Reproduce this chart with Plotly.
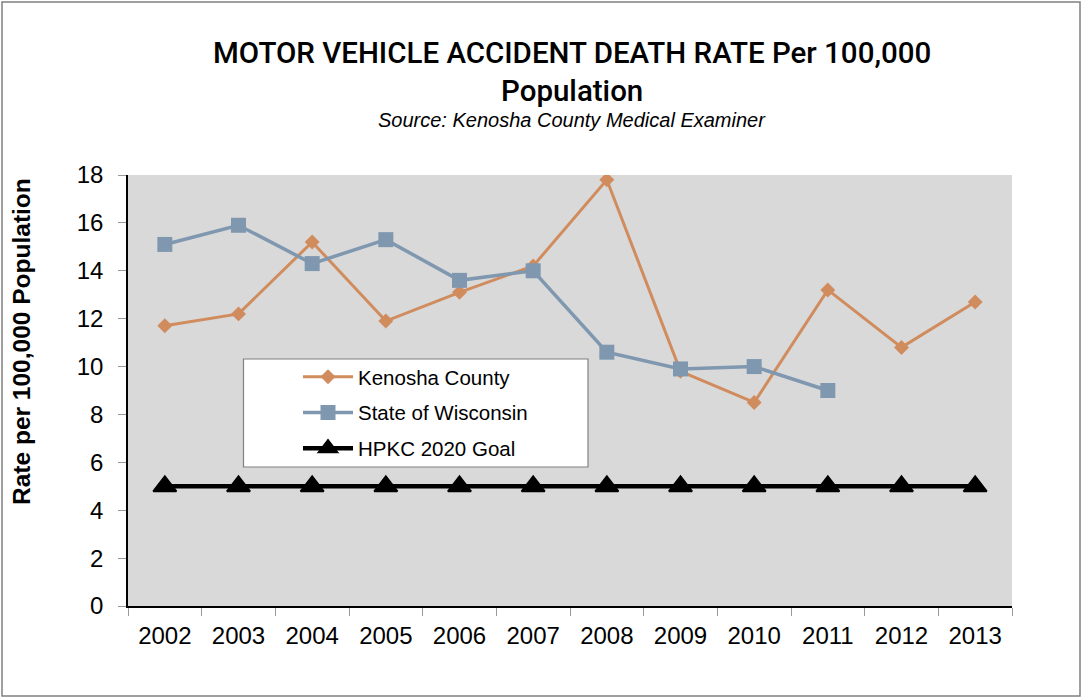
import plotly.graph_objects as go

years = ["2002", "2003", "2004", "2005", "2006", "2007", "2008", "2009", "2010", "2011", "2012", "2013"]
kenosha = [11.7, 12.2, 15.2, 11.9, 13.1, 14.2, 17.8, 9.8, 8.5, 13.2, 10.8, 12.7]
wisconsin = [15.1, 15.9, 14.3, 15.3, 13.6, 14.0, 10.6, 9.9, 10.0, 9.0, None, None]
goal = [5, 5, 5, 5, 5, 5, 5, 5, 5, 5, 5, 5]

W, H = 1083, 698
L, R, T, B = 128, 1012, 175, 606

def px(x):
    return (x - L) / (R - L)

def py(y):
    return (B - y) / (B - T)

fig = go.Figure()
fig.add_trace(go.Scatter(
    x=years, y=kenosha, name="Kenosha County", mode="lines+markers",
    line=dict(color="#D18C5E", width=3),
    marker=dict(symbol="diamond", size=11.5, color="#D18C5E"),
    legendgroup="a"))
fig.add_trace(go.Scatter(
    x=years, y=wisconsin, name="State of Wisconsin", mode="lines+markers",
    line=dict(color="#7F98B0", width=3.5),
    marker=dict(symbol="square", size=15, color="#7F98B0"),
    legendgroup="b"))
fig.add_trace(go.Scatter(
    x=years, y=goal, name="HPKC 2020 Goal", mode="lines+markers",
    line=dict(color="#000000", width=4.5),
    marker=dict(symbol="triangle-up", size=20, color="#000000",
                line=dict(color="#000000", width=2)),
    legendgroup="c"))

font_main = "Liberation Sans, Arial, sans-serif"

fig.update_layout(
    width=W, height=H,
    margin=dict(l=L, r=W - R, t=T, b=H - B, pad=0),
    paper_bgcolor="white",
    plot_bgcolor="#D9D9D9",
    showlegend=True,
    legend=dict(
        x=px(298), y=py(357), xanchor="left", yanchor="top",
        bgcolor="rgba(0,0,0,0)", borderwidth=0,
        font=dict(family=font_main, size=20.5, color="#000000"),
        traceorder="grouped", tracegroupgap=6,
        itemwidth=50,
    ),
    xaxis=dict(
        type="category", range=[-0.5, 11.5],
        showline=True, linecolor="#000000", linewidth=1.5,
        ticks="outside", tickson="boundaries", ticklen=8, tickcolor="#999999",
        ticklabelstandoff=7,
        tickfont=dict(family=font_main, size=24, color="#000000"),
        showgrid=False, zeroline=False,
    ),
    yaxis=dict(
        range=[0, 18], dtick=2,
        showline=True, linecolor="#000000", linewidth=1.5,
        ticks="outside", ticklen=8, tickcolor="#999999",
        ticklabelstandoff=10,
        tickfont=dict(family=font_main, size=24, color="#000000"),
        showgrid=False, zeroline=False,
    ),
    shapes=[
        dict(type="rect", xref="paper", yref="paper",
             x0=px(243.5), x1=px(588), y0=py(467), y1=py(359),
             fillcolor="white", line=dict(color="#808080", width=1.2), layer="above"),
        dict(type="rect", xref="paper", yref="paper",
             x0=px(2), x1=px(1080), y0=py(696), y1=py(2),
             fillcolor="rgba(0,0,0,0)", line=dict(color="#808080", width=1.5), layer="below"),
    ],
    annotations=[
        dict(text="MOTOR VEHICLE ACCIDENT DEATH RATE Per 100,000<br>Population",
             xref="paper", yref="paper", x=px(572), y=py(72), xanchor="center", yanchor="middle",
             showarrow=False, align="center",
             font=dict(family="Roboto, Liberation Sans, sans-serif", size=29.5, weight=500, color="#000000")),
        dict(text="<i>Source: Kenosha County Medical Examiner</i>",
             xref="paper", yref="paper", x=px(572), y=py(120), xanchor="center", yanchor="middle",
             showarrow=False,
             font=dict(family=font_main, size=20, color="#000000")),
        dict(text="<b>Rate per 100,000 Population</b>",
             xref="paper", yref="paper", x=px(21), y=py(342), xanchor="center", yanchor="middle",
             showarrow=False, textangle=-90,
             font=dict(family=font_main, size=24.5, color="#000000")),
    ],
)

fig.write_html("out.html", config={"displayModeBar": False},
               post_script="document.body.style.margin='0';document.body.style.overflow='hidden';")
